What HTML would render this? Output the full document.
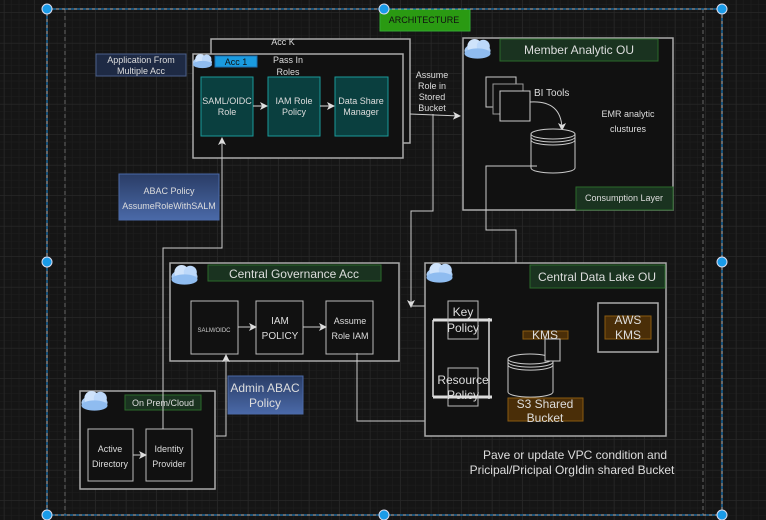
<!DOCTYPE html>
<html><head><meta charset="utf-8"><style>
html,body{margin:0;padding:0;background:#151515;}
svg{display:block;font-family:"Liberation Sans",sans-serif;}
</style></head><body>
<svg width="766" height="520" viewBox="0 0 766 520" xmlns="http://www.w3.org/2000/svg">
<defs>
<pattern id="minor" width="7.625" height="7.625" patternUnits="userSpaceOnUse" x="4" y="5">
<path d="M7.625 0V7.625M0 7.625H7.625" stroke="#1f1f1f" stroke-width="1" fill="none"/></pattern>
<pattern id="major" width="30.5" height="30.5" patternUnits="userSpaceOnUse" x="4" y="12.5">
<path d="M0 0V30.5M0 0H30.5" stroke="#2a2a2a" stroke-width="1" fill="none"/></pattern>
<marker id="ar" markerWidth="8" markerHeight="8" refX="7" refY="4" orient="auto" markerUnits="userSpaceOnUse">
<path d="M0,0 L8,4 L0,8 L2,4 z" fill="#ddd"/></marker>
<g id="cloud"><ellipse cx="10" cy="8" rx="9" ry="5" fill="#a9ccf5"/><circle cx="8" cy="5" r="5" fill="#cfe3fb"/><circle cx="14" cy="5" r="4.5" fill="#bcd8fa"/><ellipse cx="10" cy="10" rx="9" ry="3.5" fill="#8fbcf0"/></g>
</defs>
<rect width="766" height="520" fill="#151515"/>
<rect width="766" height="520" fill="url(#minor)"/>
<rect width="766" height="520" fill="url(#major)"/>

<line x1="65" y1="9" x2="65" y2="515" stroke="#666" stroke-dasharray="4,3"/>
<line x1="703" y1="9" x2="703" y2="515" stroke="#666" stroke-dasharray="4,3"/>

<rect x="380" y="9" width="90" height="22" fill="#2a9a12" stroke="#3a3"/>
<text x="424" y="23" font-size="9" fill="#111" text-anchor="middle">ARCHITECTURE</text>

<rect x="211" y="39" width="199" height="104" fill="#111" stroke="#aaa" stroke-width="1.5"/>
<text x="283" y="45" font-size="9" fill="#ddd" text-anchor="middle">Acc K</text>
<rect x="193" y="54" width="210" height="104" fill="#111" stroke="#aaa" stroke-width="1.5"/>
<use href="#cloud" transform="translate(192,54) scale(1.05)"/>
<rect x="215" y="56" width="42" height="11" fill="#1a9be0" stroke="#1a6fb0"/>
<text x="236" y="65" font-size="9" fill="#111" text-anchor="middle">Acc 1</text>
<text x="288" y="63" font-size="9" fill="#ddd" text-anchor="middle">Pass In</text>
<text x="288" y="75" font-size="9" fill="#ddd" text-anchor="middle">Roles</text>
<rect x="201" y="77" width="52" height="59" fill="#0a3f3f" stroke="#1a9a9a"/>
<text x="227" y="104" font-size="9" fill="#ddd" text-anchor="middle">SAML/OIDC</text>
<text x="227" y="115" font-size="9" fill="#ddd" text-anchor="middle">Role</text>
<rect x="268" y="77" width="52" height="59" fill="#0a3f3f" stroke="#1a9a9a"/>
<text x="294" y="104" font-size="9" fill="#ddd" text-anchor="middle">IAM Role</text>
<text x="294" y="115" font-size="9" fill="#ddd" text-anchor="middle">Policy</text>
<rect x="335" y="77" width="53" height="59" fill="#0a3f3f" stroke="#1a9a9a"/>
<text x="361" y="104" font-size="9" fill="#ddd" text-anchor="middle">Data Share</text>
<text x="361" y="115" font-size="9" fill="#ddd" text-anchor="middle">Manager</text>
<line x1="253" y1="106" x2="267" y2="106" stroke="#ddd" marker-end="url(#ar)"/>
<line x1="320" y1="106" x2="334" y2="106" stroke="#ddd" marker-end="url(#ar)"/>

<rect x="96" y="54" width="90" height="22" fill="#1e2a44" stroke="#4a5f8a"/>
<text x="141" y="63" font-size="9" fill="#ddd" text-anchor="middle">Application From</text>
<text x="141" y="74" font-size="9" fill="#ddd" text-anchor="middle">Multiple Acc</text>

<defs><linearGradient id="bg1" x1="0" y1="0" x2="0" y2="1"><stop offset="0" stop-color="#2a3d66"/><stop offset="1" stop-color="#4a69a8"/></linearGradient></defs>
<rect x="119" y="174" width="100" height="46" fill="url(#bg1)" stroke="#4a69a8"/>
<text x="169" y="194" font-size="9" fill="#ddd" text-anchor="middle">ABAC Policy</text>
<text x="169" y="209" font-size="9" fill="#ddd" text-anchor="middle">AssumeRoleWithSALM</text>

<text x="432" y="78" font-size="9" fill="#ddd" text-anchor="middle">Assume</text>
<text x="432" y="89" font-size="9" fill="#ddd" text-anchor="middle">Role in</text>
<text x="432" y="100" font-size="9" fill="#ddd" text-anchor="middle">Stored</text>
<text x="432" y="111" font-size="9" fill="#ddd" text-anchor="middle">Bucket</text>
<path d="M410 114 L460 116" stroke="#ccc" fill="none" marker-end="url(#ar)"/>
<path d="M433 114 V211 H411 V307" stroke="#ccc" fill="none" marker-end="url(#ar)"/>

<rect x="463" y="38" width="210" height="172" fill="#111" stroke="#aaa" stroke-width="1.5"/>
<use href="#cloud" transform="translate(463,39) scale(1.45)"/>
<rect x="500" y="39" width="158" height="22" fill="#1a3320" stroke="#2a6a2a"/>
<text x="579" y="54" font-size="12" fill="#ddd" text-anchor="middle">Member Analytic OU</text>
<rect x="486" y="77" width="30" height="30" fill="#111" stroke="#ccc"/>
<rect x="493" y="84" width="30" height="30" fill="#111" stroke="#999"/>
<rect x="500" y="91" width="30" height="30" fill="#111" stroke="#ccc"/>
<text x="534" y="96" font-size="10" fill="#ddd">BI Tools</text>
<path d="M530 102 Q562 100 562 130" stroke="#ccc" fill="none" marker-end="url(#ar)"/>
<path d="M531 134 V168 A22 5 0 0 0 575 168 V134" stroke="#ccc" fill="#111"/>
<ellipse cx="553" cy="134" rx="22" ry="5" fill="#111" stroke="#ccc"/>
<path d="M531 137 A22 5 0 0 0 575 137 M531 140 A22 5 0 0 0 575 140" stroke="#ccc" fill="none"/>
<text x="628" y="117" font-size="9" fill="#ddd" text-anchor="middle">EMR analytic</text>
<text x="628" y="132" font-size="9" fill="#ddd" text-anchor="middle">clustures</text>
<rect x="576" y="187" width="97" height="23" fill="#1a3320" stroke="#2a6a2a"/>
<text x="624" y="201" font-size="9" fill="#ddd" text-anchor="middle">Consumption Layer</text>
<path d="M537 166 H486 V230 H516 V347 H488" stroke="#ccc" fill="none" marker-end="url(#ar)"/>

<rect x="170" y="263" width="229" height="98" fill="#111" stroke="#aaa" stroke-width="1.5"/>
<use href="#cloud" transform="translate(170,265) scale(1.45)"/>
<rect x="208" y="265" width="173" height="16" fill="#1a3320" stroke="#2a6a2a"/>
<text x="294" y="278" font-size="12" fill="#ddd" text-anchor="middle">Central Governance Acc</text>
<rect x="191" y="301" width="47" height="53" fill="#111" stroke="#bbb"/>
<text x="214" y="332" font-size="6" fill="#ccc" text-anchor="middle">SALM/OIDC</text>
<rect x="256" y="301" width="47" height="53" fill="#111" stroke="#bbb"/>
<text x="280" y="324" font-size="10" fill="#ddd" text-anchor="middle">IAM</text>
<text x="280" y="339" font-size="10" fill="#ddd" text-anchor="middle">POLICY</text>
<rect x="326" y="301" width="47" height="53" fill="#111" stroke="#bbb"/>
<text x="350" y="324" font-size="9" fill="#ddd" text-anchor="middle">Assume</text>
<text x="350" y="339" font-size="9" fill="#ddd" text-anchor="middle">Role IAM</text>
<line x1="238" y1="327" x2="256" y2="327" stroke="#ccc" marker-end="url(#ar)"/>
<line x1="303" y1="327" x2="326" y2="327" stroke="#ccc" marker-end="url(#ar)"/>
<path d="M357 353 V421 H463 V406" stroke="#ccc" fill="none" marker-end="url(#ar)"/>
<path d="M411 306 H447" stroke="#ccc" fill="none" marker-end="url(#ar)"/>

<rect x="228" y="376" width="75" height="38" fill="url(#bg1)" stroke="#4a69a8"/>
<text x="265" y="392" font-size="12" fill="#ddd" text-anchor="middle">Admin ABAC</text>
<text x="265" y="407" font-size="12" fill="#ddd" text-anchor="middle">Policy</text>

<rect x="80" y="391" width="135" height="98" fill="#111" stroke="#aaa" stroke-width="1.5"/>
<use href="#cloud" transform="translate(80,391) scale(1.45)"/>
<rect x="125" y="395" width="76" height="15" fill="#1a3320" stroke="#2a6a2a"/>
<text x="163" y="406" font-size="9" fill="#ddd" text-anchor="middle">On Prem/Cloud</text>
<rect x="88" y="429" width="45" height="52" fill="#111" stroke="#bbb"/>
<text x="110" y="452" font-size="9" fill="#ddd" text-anchor="middle">Active</text>
<text x="110" y="467" font-size="9" fill="#ddd" text-anchor="middle">Directory</text>
<rect x="146" y="429" width="46" height="52" fill="#111" stroke="#bbb"/>
<text x="169" y="452" font-size="9" fill="#ddd" text-anchor="middle">Identity</text>
<text x="169" y="467" font-size="9" fill="#ddd" text-anchor="middle">Provider</text>
<line x1="133" y1="455" x2="146" y2="455" stroke="#ccc" marker-end="url(#ar)"/>
<path d="M163 429 V248 H222 V138" stroke="#ccc" fill="none" marker-end="url(#ar)"/>
<path d="M216 436 H226 V355" stroke="#ccc" fill="none" marker-end="url(#ar)"/>

<rect x="425" y="263" width="241" height="173" fill="#111" stroke="#aaa" stroke-width="1.5"/>
<use href="#cloud" transform="translate(425,263) scale(1.45)"/>
<rect x="530" y="265" width="135" height="23" fill="#1a3320" stroke="#2a6a2a"/>
<text x="597" y="281" font-size="12" fill="#ddd" text-anchor="middle">Central Data Lake OU</text>
<path d="M433 320 V397 M489 318 V399" stroke="#ddd" stroke-width="1.5" fill="none"/>
<path d="M433 320 H492 M433 397 H492" stroke="#ddd" stroke-width="3" fill="none"/>
<rect x="448" y="301" width="30" height="38" fill="none" stroke="#bbb"/>
<text x="463" y="316" font-size="12" fill="#ddd" text-anchor="middle">Key</text>
<text x="463" y="332" font-size="12" fill="#ddd" text-anchor="middle">Policy</text>
<rect x="448" y="368" width="30" height="38" fill="none" stroke="#bbb"/>
<text x="463" y="384" font-size="12" fill="#ddd" text-anchor="middle">Resource</text>
<text x="463" y="399" font-size="12" fill="#ddd" text-anchor="middle">Policy</text>
<rect x="523" y="331" width="45" height="8" fill="#4a2e08" stroke="#8a5a10"/>
<text x="545" y="339" font-size="12" fill="#ddd" text-anchor="middle">KMS</text>
<path d="M508 359 V392 A22 5 0 0 0 553 392 V359" stroke="#ccc" fill="#111"/>
<ellipse cx="530" cy="359" rx="22" ry="5" fill="#111" stroke="#ccc"/>
<path d="M508 362 A22 5 0 0 0 553 362 M508 365 A22 5 0 0 0 553 365" stroke="#ccc" fill="none"/>
<rect x="545" y="339" width="15" height="22" fill="#111" stroke="#ccc"/>
<rect x="508" y="398" width="75" height="23" fill="#4a2e08" stroke="#8a5a10"/>
<text x="545" y="408" font-size="12" fill="#ddd" text-anchor="middle">S3 Shared</text>
<text x="545" y="422" font-size="12" fill="#ddd" text-anchor="middle">Bucket</text>
<rect x="598" y="303" width="60" height="49" fill="#111" stroke="#aaa" stroke-width="1.5"/>
<rect x="605" y="316" width="46" height="23" fill="#4a2e08" stroke="#8a5a10"/>
<text x="628" y="324" font-size="12" fill="#ddd" text-anchor="middle">AWS</text>
<text x="628" y="339" font-size="12" fill="#ddd" text-anchor="middle">KMS</text>

<text x="575" y="459" font-size="12" fill="#ddd" text-anchor="middle">Pave or update VPC condition and</text>
<text x="572" y="474" font-size="12" fill="#ddd" text-anchor="middle">Pricipal/Pricipal OrgIdin shared Bucket</text>

<rect x="47" y="9" width="675" height="506" fill="none" stroke="#bbb" stroke-width="1"/>
<rect x="47" y="9" width="675" height="506" fill="none" stroke="#1a8fe0" stroke-width="1" stroke-dasharray="3,3"/>
<g fill="#1a9be8" stroke="#dde" stroke-width="1">
<circle cx="47" cy="9" r="5"/><circle cx="384" cy="9" r="5"/><circle cx="722" cy="9" r="5"/>
<circle cx="47" cy="262" r="5"/><circle cx="722" cy="262" r="5"/>
<circle cx="47" cy="515" r="5"/><circle cx="384" cy="515" r="5"/><circle cx="722" cy="515" r="5"/>
</g>
</svg>
</body></html>
